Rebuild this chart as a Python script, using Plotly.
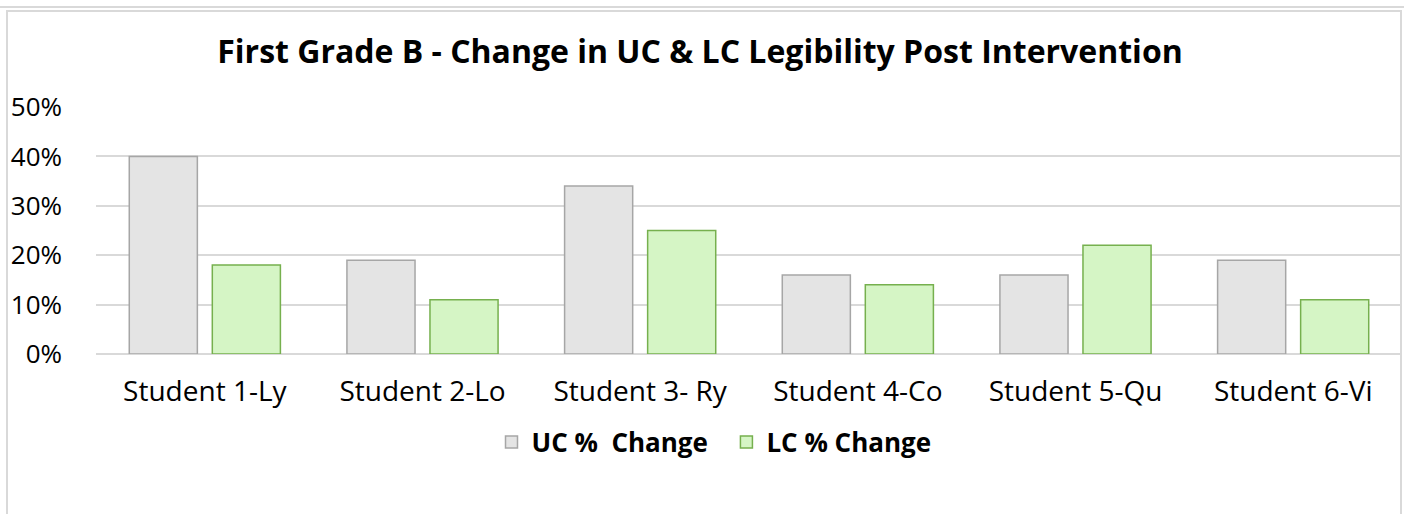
import plotly.graph_objects as go

categories = ["Student 1-Ly", "Student 2-Lo", "Student 3- Ry", "Student 4-Co", "Student 5-Qu", "Student 6-Vi"]
uc_values = [0.40, 0.19, 0.34, 0.16, 0.16, 0.19]
lc_values = [0.18, 0.11, 0.25, 0.14, 0.22, 0.11]
y_ticks = [0, 0.1, 0.2, 0.3, 0.4, 0.5]
y_tick_labels = ["0%", "10%", "20%", "30%", "40%", "50%"]

FONT = "Open Sans"
W, H = 1404, 514
L, R, T, B = 96, 2, 107, 160
PW, PH = W - L - R, H - T - B

def px(x):
    return (x - L) / PW

def py(y):
    return (H - B - y) / PH

fig = go.Figure()
fig.add_trace(go.Bar(
    x=categories, y=uc_values, name="<b>UC %  Change</b>&nbsp;&nbsp;",
    marker=dict(color="#e4e4e4", line=dict(color="#a6a6a6", width=1.5)),
))
fig.add_trace(go.Bar(
    x=categories, y=lc_values, name="<b>LC % Change</b>",
    marker=dict(color="#d5f5c5", line=dict(color="#76b04e", width=1.5)),
))

frame = "#d9d9d9"
shapes = [
    dict(type="line", xref="paper", yref="paper", x0=px(0), x1=px(W), y0=py(7), y1=py(7),
         line=dict(color=frame, width=2)),
    dict(type="rect", xref="paper", yref="paper", x0=px(7), x1=px(1401), y0=py(530), y1=py(11),
         line=dict(color=frame, width=2), fillcolor="rgba(0,0,0,0)"),
]

fig.update_layout(
    width=W, height=H,
    margin=dict(l=L, r=R, t=T, b=B, pad=0),
    paper_bgcolor="white", plot_bgcolor="white",
    font=dict(family=FONT, color="black"),
    title=dict(text="<b>First Grade B - Change in UC & LC Legibility Post Intervention</b>",
               x=700 / W, xanchor="center", xref="container",
               y=1 - 52 / H, yanchor="middle", yref="container",
               font=dict(family=FONT, size=32, color="black")),
    barmode="group", bargap=0.237, bargroupgap=0.18,
    showlegend=True,
    legend=dict(orientation="h", x=714 / W, xanchor="center", xref="container",
                y=1 - 442 / H, yanchor="middle", yref="container",
                font=dict(family=FONT, size=26, color="black"),
                itemwidth=30, bgcolor="rgba(0,0,0,0)"),
    shapes=shapes,
)
fig.update_yaxes(range=[0, 0.5], tickvals=y_ticks, ticktext=y_tick_labels,
                 showgrid=True, gridcolor="#d9d9d9", gridwidth=1.5,
                 zeroline=True, zerolinecolor="#d9d9d9", zerolinewidth=1.5,
                 showline=False, ticks="", ticklabelstandoff=33,
                 tickfont=dict(family=FONT, size=26, color="black"))
fig.update_xaxes(showgrid=False, showline=False, ticks="", ticklabelstandoff=18,
                 tickfont=dict(family=FONT, size=28, color="black"))

fig.write_html("out.html", config={"displayModeBar": False},
               post_script="document.body.style.margin='0';document.body.style.overflow='hidden';")
